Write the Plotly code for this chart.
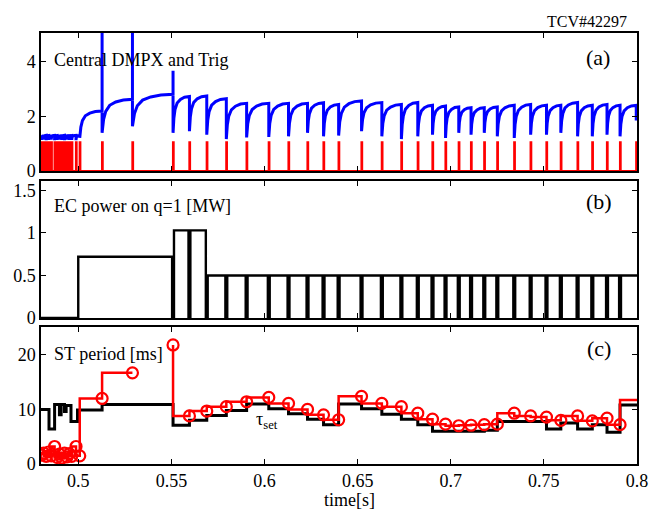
import plotly.graph_objects as go

# ---------------- TCV #42297: sawtooth pacing with EC power on q=1 ----------------

# sawtooth crash / trigger times seen on the central DMPX channel [s]
trig_time = [0.4802, 0.4815, 0.4828, 0.4841, 0.4855, 0.4873, 0.4886, 0.4899,
             0.4912, 0.4926, 0.4939, 0.4952, 0.4965, 0.4988, 0.5008,
             0.5128, 0.5291, 0.5509, 0.5597, 0.5690, 0.5795, 0.5904, 0.6023,
             0.6129, 0.6231, 0.6317, 0.6398, 0.6521, 0.6630, 0.6735, 0.6823,
             0.6902, 0.6972, 0.7043, 0.7109, 0.7180, 0.7250, 0.7341, 0.7429,
             0.7514, 0.7591, 0.7681, 0.7760, 0.7839, 0.7909, 0.7996]
trig_height = 1.05

# central DMPX [a.u.]: level just before and right after each crash
dmpx_start = 1.22
dmpx_before = [1.30, 1.29, 1.31, 1.30, 1.29, 1.31, 1.30, 1.29,
               1.30, 1.31, 1.29, 1.30, 1.30, 1.31, 1.30,
               2.20, 2.63, 2.81, 2.73, 2.75, 2.65, 2.48, 2.48,
               2.48, 2.48, 2.50, 2.44, 2.57, 2.51, 2.44, 2.51,
               2.41, 2.38, 2.35, 2.32, 2.32, 2.35, 2.41, 2.44,
               2.41, 2.41, 2.51, 2.41, 2.44, 2.41, 2.41]
dmpx_after = [1.14, 1.15, 1.13, 1.14, 1.15, 1.13, 1.14, 1.15,
              1.14, 1.13, 1.15, 1.14, 1.14, 1.13, 1.22,
              1.40, 1.64, 1.40, 1.46, 1.33, 1.17, 1.23, 1.25,
              1.27, 1.40, 1.27, 1.30, 1.46, 1.27, 1.17, 1.27,
              1.33, 1.21, 1.40, 1.33, 1.40, 1.27, 1.21, 1.33,
              1.33, 1.40, 1.27, 1.27, 1.33, 1.27, 1.85]
dmpx_end = 1.95
# fast spikes riding on a few crashes
spike_time = [0.5128, 0.5291, 0.5509]
spike_level = [6.0, 6.0, 3.68]
# normalised reheat shape of the central emission between two crashes
rise_frac = [0.0, 0.05, 0.12, 0.25, 0.45, 0.70, 1.0]
rise_shape = [0.0, 0.40, 0.64, 0.82, 0.92, 0.98, 1.0]

# EC power on q=1 [MW]: switch-on, short notches at the crashes, block levels
ec_on_time = 0.500
ec_notch_half = 0.0005
ec_notch_time = [0.5509, 0.5597, 0.5690, 0.5795, 0.5904, 0.6023, 0.6129,
                 0.6231, 0.6317, 0.6398, 0.6521, 0.6630, 0.6735, 0.6823,
                 0.6902, 0.6972, 0.7043, 0.7109, 0.7180, 0.7250, 0.7341,
                 0.7429, 0.7514, 0.7591, 0.7681, 0.7760, 0.7839, 0.7909]
ec_block_level = [0.72, 1.03, 1.03, 0.50, 0.50, 0.50, 0.50, 0.50, 0.50,
                  0.50, 0.50, 0.50, 0.50, 0.50, 0.50, 0.50, 0.50, 0.50,
                  0.50, 0.50, 0.50, 0.50, 0.50, 0.50, 0.50, 0.50, 0.50,
                  0.50, 0.50]

# measured sawtooth period at each crash [ms]
st_time = [0.4802, 0.4815, 0.4828, 0.4841, 0.4855, 0.4873, 0.4886, 0.4899,
           0.4912, 0.4926, 0.4939, 0.4952, 0.4965, 0.4988, 0.5008,
           0.5128, 0.5291, 0.5509, 0.5597, 0.5690, 0.5795, 0.5904, 0.6023,
           0.6129, 0.6231, 0.6317, 0.6398, 0.6521, 0.6630, 0.6735, 0.6823,
           0.6902, 0.6972, 0.7043, 0.7109, 0.7180, 0.7250, 0.7341, 0.7429,
           0.7514, 0.7591, 0.7681, 0.7760, 0.7839, 0.7909, 0.8035]
st_period = [1.6, 2.0, 1.4, 2.2, 1.5, 3.2, 1.2, 1.8,
             1.1, 2.0, 1.3, 1.9, 1.4, 3.2, 1.5,
             12.0, 16.7, 21.8, 8.8, 9.7, 10.5, 11.4, 12.2,
             11.1, 10.0, 9.0, 8.1, 12.4, 11.1, 10.5, 9.3,
             8.2, 7.3, 7.0, 7.1, 7.2, 7.3, 9.3, 8.8,
             8.6, 8.0, 8.8, 7.9, 8.4, 7.2, 11.7]

# requested period tau_set [ms]
tau_time = [0.4800, 0.4843, 0.4873, 0.4899, 0.4908, 0.4926, 0.4935, 0.4961,
            0.4996, 0.5128, 0.5509, 0.5597, 0.5690, 0.5795, 0.5904, 0.6023,
            0.6129, 0.6231, 0.6317, 0.6398, 0.6521, 0.6630, 0.6735, 0.6823,
            0.6902, 0.7180, 0.7250, 0.7514, 0.7591, 0.7681, 0.7760, 0.7839,
            0.7909, 0.8000]
tau_value = [10.0, 6.4, 10.9, 9.0, 10.9, 9.6, 10.7, 7.8,
             9.9, 10.9, 7.1, 8.0, 8.9, 9.8, 11.0, 10.1,
             9.2, 8.2, 7.2, 11.0, 10.1, 9.1, 8.2, 7.2,
             6.0, 6.2, 7.8, 6.4, 7.5, 6.4, 7.2, 5.8,
             10.8, 10.8]

T0, T1 = 0.48, 0.80
FONT = "Times New Roman"

# ---------------- build traces ----------------
# DMPX: reheat between crashes, vertical drop (and spike) at each crash
bounds = trig_time[1:] + [T1]
tops = dmpx_before[1:] + [dmpx_end]
dm_t, dm_v = [T0], [dmpx_start]
for i, tc in enumerate(trig_time):
    dm_t.append(tc)
    dm_v.append(dmpx_before[i])
    if tc in spike_time:
        dm_t.append(tc)
        dm_v.append(spike_level[spike_time.index(tc)])
    lo, hi, t_next = dmpx_after[i], tops[i], bounds[i]
    for f, s in zip(rise_frac, rise_shape):
        dm_t.append(tc + f * (t_next - tc))
        dm_v.append(lo + s * (hi - lo))

# trigger pulses on a zero baseline
tr_t, tr_v = [T0], [0.0]
for tc in trig_time:
    tr_t += [tc, tc, tc + 0.0003, tc + 0.0003]
    tr_v += [0.0, trig_height, trig_height, 0.0]
tr_t.append(T1)
tr_v.append(0.0)

# EC power waveform
ec_t, ec_p = [T0, ec_on_time, ec_on_time], [0.0, 0.0, ec_block_level[0]]
for k, tn in enumerate(ec_notch_time):
    ec_t += [tn - ec_notch_half, tn - ec_notch_half, tn + ec_notch_half, tn + ec_notch_half]
    ec_p += [ec_block_level[k], 0.0, 0.0, ec_block_level[k + 1]]
ec_t.append(T1)
ec_p.append(ec_block_level[-1])

# ST period step line, interrupted where no period update exists (>20 ms)
st_lt, st_lv = [], []
for k, (t, p) in enumerate(zip(st_time, st_period)):
    if k and t - st_time[k - 1] > 0.020:
        st_lt.append(None)
        st_lv.append(None)
    st_lt.append(t)
    st_lv.append(p)

fig = go.Figure()
fig.add_trace(go.Scatter(x=dm_t, y=dm_v, mode="lines", xaxis="x3", yaxis="y3",
                         line=dict(color="#0000ff", width=3, simplify=False)))
fig.add_trace(go.Scatter(x=tr_t, y=tr_v, mode="lines", xaxis="x3", yaxis="y3",
                         line=dict(color="#ff0000", width=2.2, simplify=False)))
fig.add_trace(go.Scatter(x=ec_t, y=ec_p, mode="lines", xaxis="x2", yaxis="y2",
                         line=dict(color="black", width=2.4, simplify=False)))
fig.add_trace(go.Scatter(x=tau_time, y=tau_value, mode="lines", xaxis="x", yaxis="y",
                         line=dict(color="black", width=3, shape="hv")))
fig.add_trace(go.Scatter(x=st_lt, y=st_lv, mode="lines", xaxis="x", yaxis="y",
                         line=dict(color="#ff0000", width=2.5, shape="vh"),
                         connectgaps=False))
fig.add_trace(go.Scatter(x=st_time, y=st_period, mode="markers", xaxis="x", yaxis="y",
                         marker=dict(symbol="circle-open", size=11, color="#ff0000",
                                     line=dict(width=2.2, color="#ff0000"))))

# ---------------- layout ----------------
axis_style = dict(showline=True, linewidth=1.5, linecolor="black", mirror="ticks",
                  ticks="inside", ticklen=5, tickwidth=1.2, tickcolor="black",
                  showgrid=False, zeroline=False, ticklabeloverflow="allow",
                  tickfont=dict(family=FONT, size=18, color="black"))
xticks = [0.5, 0.55, 0.6, 0.65, 0.7, 0.75, 0.8]
xlabels = ["0.5", "0.55", "0.6", "0.65", "0.7", "0.75", "0.8"]

fig.update_layout(
    width=658, height=514,
    margin=dict(l=41, r=10, t=33, b=50),
    paper_bgcolor="white", plot_bgcolor="white",
    showlegend=False,
    font=dict(family=FONT, size=18, color="black"),
    xaxis=dict(axis_style, range=[T0, T1], tickvals=xticks, ticktext=xlabels,
               anchor="y"),
    xaxis2=dict(axis_style, range=[T0, T1], tickvals=xticks, showticklabels=False,
                anchor="y2", matches="x"),
    xaxis3=dict(axis_style, range=[T0, T1], tickvals=xticks, showticklabels=False,
                anchor="y3", matches="x"),
    yaxis=dict(axis_style, domain=[0.0, 0.318], range=[0, 25.1],
               tickvals=[0, 10, 20], anchor="x"),
    yaxis2=dict(axis_style, domain=[0.3387, 0.6566], range=[0, 1.61],
                tickvals=[0, 0.5, 1, 1.5], ticktext=["0", "0.5", "1", "1.5"], anchor="x2"),
    yaxis3=dict(axis_style, domain=[0.6798, 1.0], range=[0, 5.06],
                tickvals=[0, 2, 4], anchor="x3"),
)

def note(text, x, y, size=18, xanchor="left", xref="paper", yref="paper"):
    fig.add_annotation(text=text, x=x, y=y, xref=xref, yref=yref, showarrow=False,
                       xanchor=xanchor, yanchor="middle",
                       font=dict(family=FONT, size=size, color="black"))

def px_x(p):
    return (p - 41) / 607

def px_y(p):
    return (464 - p) / 431

note("Central DMPX and Trig", px_x(52), px_y(60))
note("EC power on q=1 [MW]", px_x(52), px_y(206))
note("ST period [ms]", px_x(52), px_y(354))
note("(a)", px_x(608), px_y(57), size=22, xanchor="center")
note("(b)", px_x(609), px_y(201), size=22, xanchor="center")
note("(c)", px_x(609), px_y(348), size=22, xanchor="center")
note("TCV#42297", px_x(640), px_y(21), size=16, xanchor="right")
note("time[s]", px_x(355), px_y(500), xanchor="center")
note("τ<sub>set</sub>", 0.5943, 7.9, xref="x", yref="y")

fig.write_html("out.html")
